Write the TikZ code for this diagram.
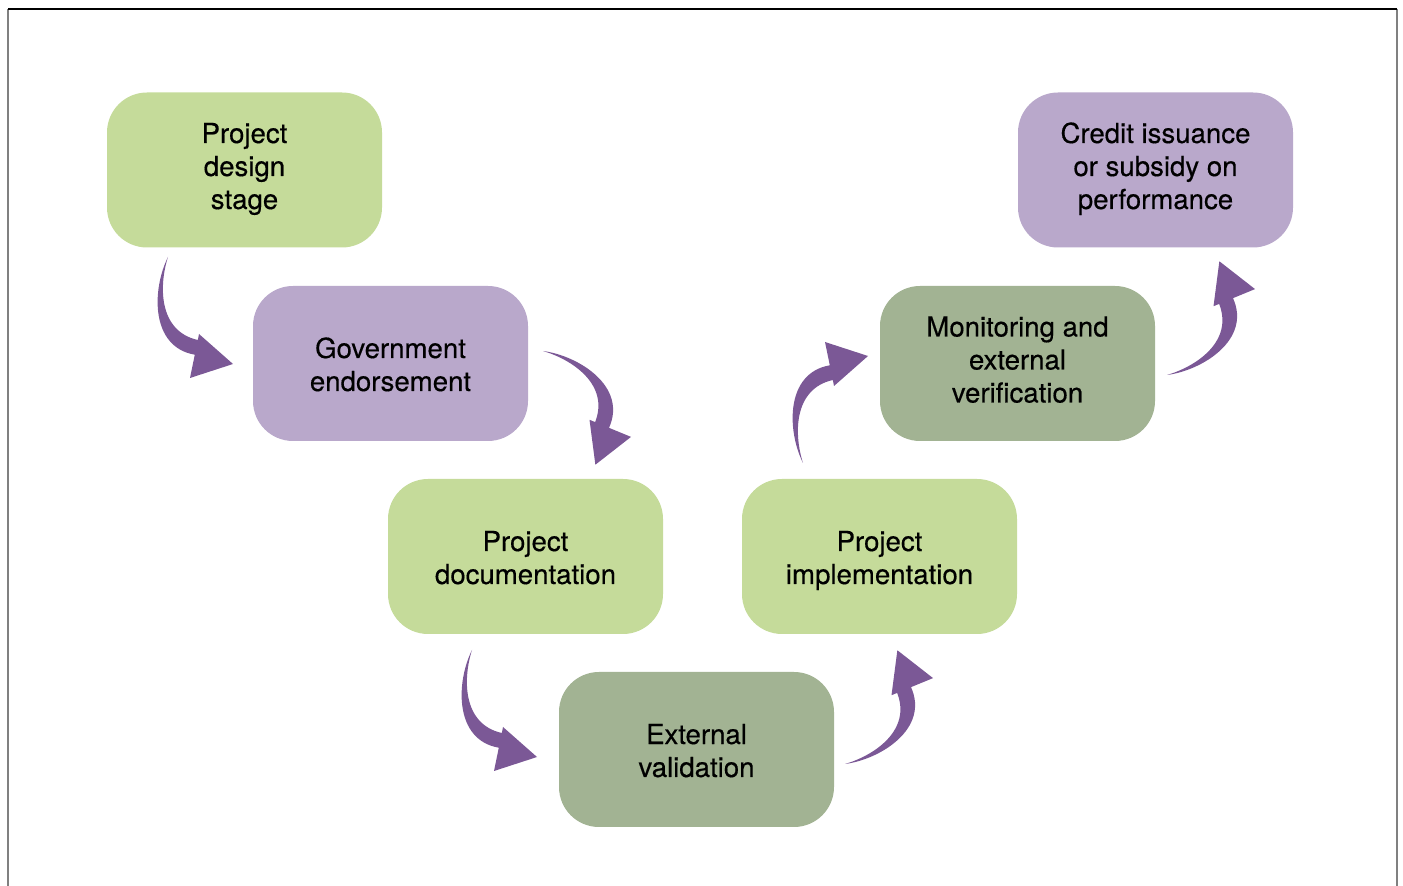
\documentclass[tikz,border=0pt]{standalone}
\usepackage{fontspec}
\setmainfont[FakeBold=0.4]{TeX Gyre Heros}
\definecolor{stagegreen}{RGB}{197,219,154}
\definecolor{stagepurple}{RGB}{185,168,203}
\definecolor{stageolive}{RGB}{162,179,147}
\definecolor{arrowpurple}{RGB}{123,88,150}
\tikzset{
  stage/.style={rounded corners=20pt, minimum width=137.5pt, minimum height=77.5pt,
    inner sep=0pt, align=center, font=\fontsize{13.8}{16.5}\selectfont,
    text height=32.5pt, text depth=5pt},
  threelines/.style={text height=44pt, text depth=5pt},
  % tapered bent arrow, thin end at the origin
  bentarrow/.pic={
    \fill[arrowpurple] (0,0) .. controls (-16,32) and (-18,90) .. (26.8,97.7)
      -- (22,121) -- (65,107) -- (31,77) -- (29.8,83)
      .. controls (-10,74) and (-9,28) .. (0,0) -- cycle;
  }
}
\begin{document}
\begin{tikzpicture}[x=0.5pt,y=-0.5pt]
    \useasboundingbox (0,0) rectangle (1403,886);

    % frame
    \draw[gray, line width=0.6pt] (8,9) -- (8,886);
    \draw[gray, line width=0.6pt] (1397,9) -- (1397,886);
    \draw[black, line width=0.6pt] (8,9) -- (1397,9);

    \node[stage, threelines, fill=stagegreen] (design) at (244.5,170) {Project\\design\\stage};
    \node[stage, fill=stagepurple] (endorse) at (390.5,363.5) {Government\\endorsement};
    \node[stage, fill=stagegreen] (docs) at (525.5,556.5) {Project\\documentation};
    \node[stage, fill=stageolive] (valid) at (696.5,749.5) {External\\validation};
    \node[stage, fill=stagegreen] (implement) at (879.5,556.5) {Project\\implementation};
    \node[stage, threelines, fill=stageolive] (monitor) at (1017.5,363.5) {Monitoring and\\external\\verification};
    \node[stage, threelines, fill=stagepurple] (credit) at (1155.5,170) {Credit issuance\\or subsidy on\\performance};

    % arrows between the stages
    \pic at (168,257) {bentarrow};
    \pic[rotate=-124, yscale=-1] at (543,351) {bentarrow};
    \pic at (472,650) {bentarrow};
    \pic[rotate=124] at (845,764) {bentarrow};
    \pic[yscale=-1] at (803,463) {bentarrow};
    \pic[rotate=124] at (1167,375) {bentarrow};
\end{tikzpicture}
\end{document}
